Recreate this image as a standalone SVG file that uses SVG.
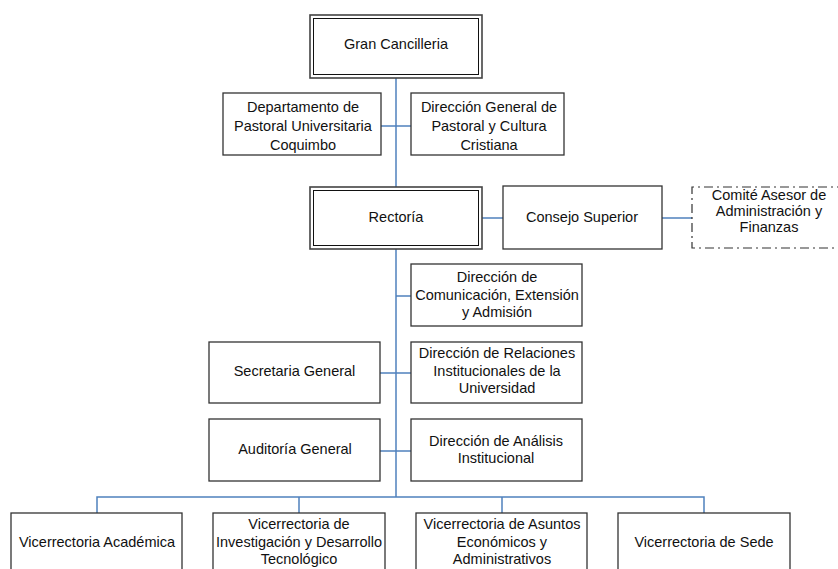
<svg xmlns="http://www.w3.org/2000/svg" width="838" height="569" viewBox="0 0 838 569">
  <style>
    .box { fill: #ffffff; stroke: #333333; stroke-width: 1.3; }
    .outer { fill: #ffffff; stroke: #444444; stroke-width: 1.6; }
    .inner { fill: none; stroke: #111111; stroke-width: 1; }
    .dash { fill: none; stroke: #333333; stroke-width: 1.2; stroke-dasharray: 9 4 2 4; }
    .lbl { font-family: "Liberation Sans", Arial, sans-serif; font-size: 14.5px; fill: #111111; text-anchor: middle; }
    .conn { fill: none; stroke: #4F81BD; stroke-width: 1.5; }
  </style>
  <rect width="838" height="569" fill="#ffffff"/>

  <!-- connectors -->
  <g id="connectors" class="conn">
    <path d="M396 78 V187"/>
    <path d="M381 126 H411"/>
    <path d="M482 218 H503"/>
    <path d="M662 218 H692"/>
    <path d="M396 249 V497"/>
    <path d="M396 296 H411"/>
    <path d="M380 373 H411"/>
    <path d="M380 451 H411"/>
    <path d="M97 513 V497 H704 V513"/>
    <path d="M299 497 V513"/>
    <path d="M502 497 V513"/>
  </g>

  <g id="gran-cancilleria">
    <rect class="outer" x="310" y="15" width="172" height="63"/>
    <rect class="inner" x="313.5" y="18.5" width="165" height="56"/>
    <text class="lbl" x="396" y="49">Gran Cancilleria</text>
  </g>

  <g id="depto-pastoral">
    <rect class="box" x="223" y="93" width="158" height="62"/>
    <text class="lbl" x="303" y="112">Departamento de</text>
    <text class="lbl" x="303" y="131">Pastoral Universitaria</text>
    <text class="lbl" x="303" y="150">Coquimbo</text>
  </g>

  <g id="dir-pastoral-cultura">
    <rect class="box" x="411" y="93" width="153" height="62"/>
    <text class="lbl" x="489" y="112">Dirección General de</text>
    <text class="lbl" x="489" y="131">Pastoral y Cultura</text>
    <text class="lbl" x="489" y="150">Cristiana</text>
  </g>

  <g id="rectoria">
    <rect class="outer" x="310" y="187" width="172" height="62"/>
    <rect class="inner" x="313.5" y="190.5" width="165" height="55"/>
    <text class="lbl" x="396" y="222">Rectoría</text>
  </g>

  <g id="consejo-superior">
    <rect class="box" x="503" y="186" width="159" height="63"/>
    <text class="lbl" x="582" y="222">Consejo Superior</text>
  </g>

  <g id="comite-asesor">
    <path class="dash" d="M846 187 H692 V248 H846"/>
    <text class="lbl" x="769" y="200">Comité Asesor de</text>
    <text class="lbl" x="769" y="216">Administración y</text>
    <text class="lbl" x="769" y="232">Finanzas</text>
  </g>

  <g id="dir-comunicacion">
    <rect class="box" x="411" y="264" width="171" height="62"/>
    <text class="lbl" x="497" y="282">Dirección de</text>
    <text class="lbl" x="497" y="300">Comunicación, Extensión</text>
    <text class="lbl" x="497" y="317">y Admisión</text>
  </g>

  <g id="secretaria-general">
    <rect class="box" x="209" y="342" width="171" height="61"/>
    <text class="lbl" x="294.5" y="376">Secretaria General</text>
  </g>

  <g id="dir-relaciones">
    <rect class="box" x="411" y="342" width="171" height="61"/>
    <text class="lbl" x="497" y="358">Dirección de Relaciones</text>
    <text class="lbl" x="497" y="376">Institucionales de la</text>
    <text class="lbl" x="497" y="393">Universidad</text>
  </g>

  <g id="auditoria-general">
    <rect class="box" x="209" y="419" width="171" height="62"/>
    <text class="lbl" x="295" y="454">Auditoría General</text>
  </g>

  <g id="dir-analisis">
    <rect class="box" x="411" y="419" width="171" height="62"/>
    <text class="lbl" x="496" y="446">Dirección de Análisis</text>
    <text class="lbl" x="496" y="463">Institucional</text>
  </g>

  <g id="vr-academica">
    <rect class="box" x="11" y="513" width="171" height="62"/>
    <text class="lbl" x="97" y="547">Vicerrectoria Académica</text>
  </g>

  <g id="vr-investigacion">
    <rect class="box" x="213" y="513" width="172" height="62"/>
    <text class="lbl" x="299" y="529">Vicerrectoria de</text>
    <text class="lbl" x="299" y="547">Investigación y Desarrollo</text>
    <text class="lbl" x="299" y="564">Tecnológico</text>
  </g>

  <g id="vr-asuntos-economicos">
    <rect class="box" x="416" y="513" width="171" height="62"/>
    <text class="lbl" x="502" y="529">Vicerrectoria de Asuntos</text>
    <text class="lbl" x="502" y="547">Económicos y</text>
    <text class="lbl" x="502" y="564">Administrativos</text>
  </g>

  <g id="vr-sede">
    <rect class="box" x="618" y="513" width="172" height="62"/>
    <text class="lbl" x="704" y="547">Vicerrectoria de Sede</text>
  </g>
</svg>
